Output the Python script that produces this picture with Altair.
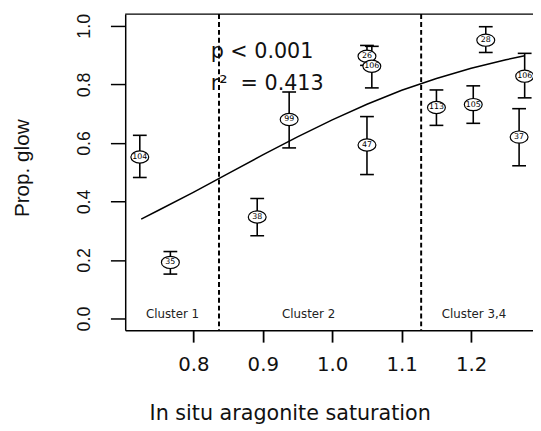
import altair as alt
import pandas as pd

# ---- data ----
ids = ["104", "35", "38", "99", "26", "106", "47", "113", "105", "28", "106", "37"]
sat = [0.723, 0.767, 0.892, 0.938, 1.050, 1.057, 1.050, 1.150, 1.203, 1.221, 1.277, 1.269]
prop = [0.552, 0.192, 0.347, 0.680, 0.896, 0.862, 0.593, 0.721, 0.731, 0.951, 0.828, 0.620]
err_lo = [0.482, 0.152, 0.283, 0.583, 0.865, 0.788, 0.492, 0.660, 0.667, 0.909, 0.754, 0.522]
err_hi = [0.626, 0.229, 0.410, 0.774, 0.933, 0.930, 0.690, 0.781, 0.795, 0.997, 0.906, 0.717]

fit_x = [0.725, 0.75, 0.80, 0.85, 0.90, 0.95, 1.00, 1.05, 1.10, 1.15, 1.20, 1.25, 1.277]
fit_y = [0.340, 0.370, 0.431, 0.495, 0.559, 0.621, 0.679, 0.732, 0.780, 0.820, 0.855, 0.884, 0.898]

cluster_bounds = [0.837, 1.128]
cluster_names = ["Cluster 1", "Cluster 2", "Cluster 3,4"]
cluster_x = [0.770, 0.966, 1.204]
cluster_y = [0.017, 0.017, 0.017]

stat_text = ["p < 0.001", "r\u00b2\u00a0\u00a0= 0.413"]
stat_x = [0.825, 0.825]
stat_y = [0.909, 0.801]

x_ticks = [0.8, 0.9, 1.0, 1.1, 1.2]
y_ticks = [0.0, 0.2, 0.4, 0.6, 0.8, 1.0]

# ---- tables ----
pts = pd.DataFrame({"x": sat, "y": prop, "lo": err_lo, "hi": err_hi, "id": ids})
caps = pd.DataFrame({"x": sat + sat, "y": err_lo + err_hi})
fit = pd.DataFrame({"x": fit_x, "y": fit_y})
bounds = pd.DataFrame({"x": cluster_bounds})
clusters = pd.DataFrame({"x": cluster_x, "y": cluster_y, "t": cluster_names})
stats = pd.DataFrame({"x": stat_x, "y": stat_y, "t": stat_text})

W, H = 414, 321
FONT = "Liberation Sans"
WIDE = "DejaVu Sans"

xscale = alt.Scale(domain=[0.702, 1.289], nice=False, zero=False)
yscale = alt.Scale(domain=[-0.04, 1.04], nice=False, zero=False)

xaxis = alt.Axis(values=x_ticks, format=".1f", title="In situ aragonite saturation",
                 grid=False, tickSize=12, tickWidth=1.8, domainWidth=1.5,
                 domainColor="black", tickColor="black", labelColor="#111111",
                 labelFont=WIDE, labelFontSize=20, labelPadding=13,
                 titleFont=WIDE, titleFontSize=21, titleFontWeight="normal",
                 titleColor="#111111", titleX=167, titleY=91,
                 titleBaseline="alphabetic", titleAlign="center")
yaxis = alt.Axis(values=y_ticks, format=".1f", title="Prop. glow",
                 grid=False, tickSize=15, tickWidth=1.5, domainWidth=1.5,
                 domainColor="black", tickColor="black", labelColor="#111111",
                 labelFont=FONT, labelFontSize=18, labelAngle=270, labelPadding=17,
                 titleFont=FONT, titleFontSize=21, titleFontWeight="normal",
                 titleColor="#111111", titleX=-104, titleY=156, titleAngle=270,
                 titleBaseline="middle", titleAlign="center")

X = alt.X("x:Q", scale=xscale, axis=xaxis)
Y = alt.Y("y:Q", scale=yscale, axis=yaxis)

top_border = alt.Chart(pd.DataFrame({"a": [0]})).mark_rule(color="black", strokeWidth=1.5).encode(
    y=alt.value(0), x=alt.value(0), x2=alt.value(W))

dash = alt.Chart(bounds).mark_rule(color="black", strokeWidth=2, strokeDash=[5, 3]).encode(x=X)

fit_line = alt.Chart(fit).mark_line(color="black", strokeWidth=1.5).encode(x=X, y=Y)

bars = alt.Chart(pts).mark_rule(color="black", strokeWidth=1.6).encode(
    x=X, y=alt.Y("lo:Q", scale=yscale, axis=yaxis), y2="hi:Q")

cap = alt.Chart(caps).mark_tick(orient="horizontal", size=14, thickness=1.6, color="black",
                               opacity=1).encode(x=X, y=Y)

ellipse = "M -1 0 A 1 0.68 0 1 0 1 0 A 1 0.68 0 1 0 -1 0 Z"
marks = alt.Chart(pts).mark_point(shape=ellipse, size=330, filled=True, fill="white",
                                  stroke="black", strokeWidth=1.2, opacity=1).encode(x=X, y=Y)

labels = alt.Chart(pts).mark_text(font=WIDE, fontSize=8, color="black",
                                  align="center", baseline="middle").encode(x=X, y=Y, text="id:N")

clus = alt.Chart(clusters).mark_text(font=WIDE, fontSize=12, color="#222222",
                                     align="center", baseline="middle").encode(x=X, y=Y, text="t:N")

stat = alt.Chart(stats).mark_text(font=WIDE, fontSize=21, color="#111111",
                                  align="left", baseline="middle").encode(x=X, y=Y, text="t:N")

chart = alt.layer(top_border, dash, fit_line, bars, cap, marks, labels, clus, stat).properties(
    width=W, height=H,
    autosize=alt.AutoSizeParams(type="none"),
    padding={"left": 119, "top": 3, "right": 0, "bottom": 98},
    background="white",
).configure_view(stroke=None)

chart.save("out.html", embed_options={"renderer": "svg", "actions": False})
